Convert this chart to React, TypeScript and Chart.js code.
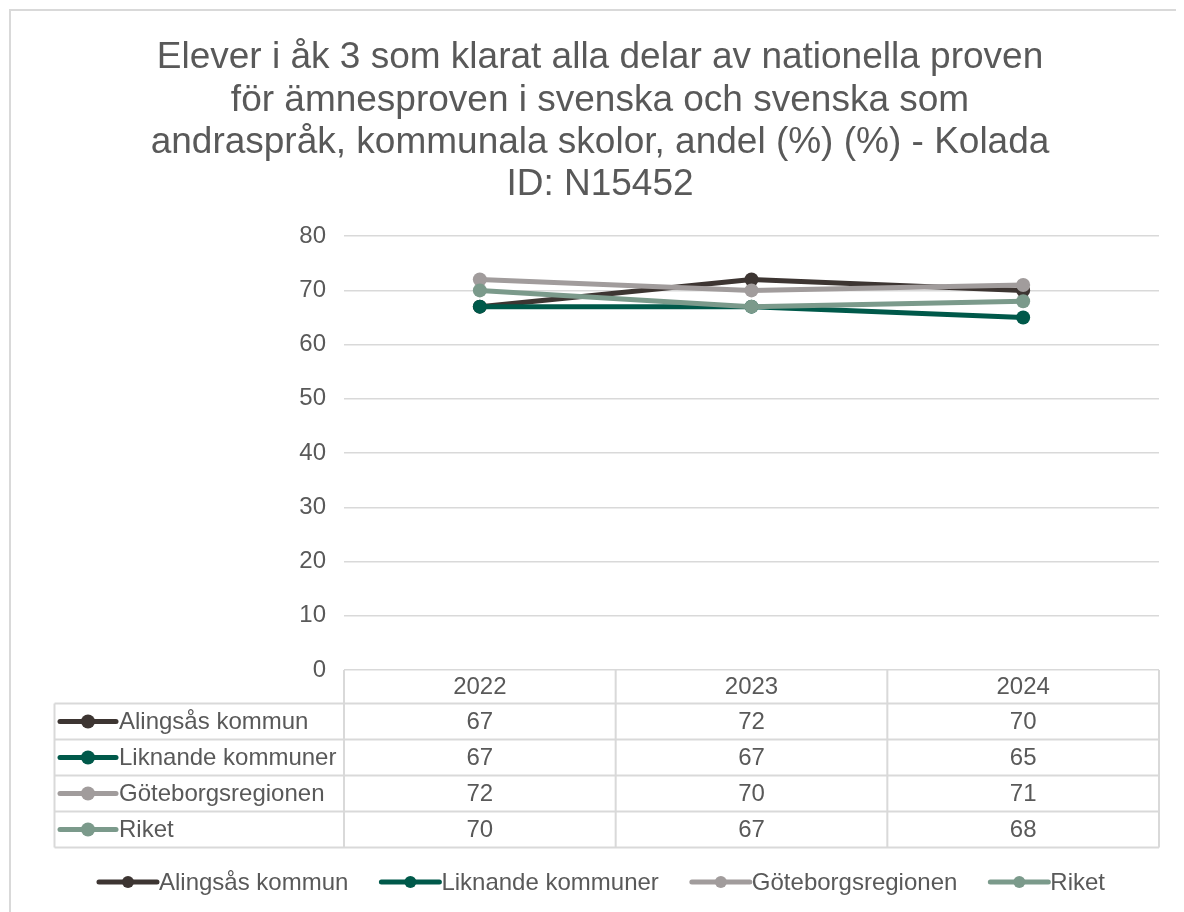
import React, { useEffect, useRef } from "react";
import { Chart, registerables } from "chart.js";

Chart.register(...registerables);

const titleLines = [
  "Elever i åk 3 som klarat alla delar av nationella proven",
  "för ämnesproven i svenska och svenska som",
  "andraspråk, kommunala skolor, andel (%) (%) - Kolada",
  "ID: N15452",
];
const years = ["2022", "2023", "2024"];
const seriesNames = ["Alingsås kommun", "Liknande kommuner", "Göteborgsregionen", "Riket"];
const alingsas = [67, 72, 70];
const liknande = [67, 67, 65];
const goteborg = [72, 70, 71];
const riket = [70, 67, 68];
const seriesColors = ["#3d3532", "#00594a", "#a19c9c", "#7b9a8b"];
const yMin = 0;
const yMax = 80;
const yStep = 10;

const FONT = '"Liberation Sans", Arial, Helvetica, sans-serif';
const TEXT = "#595959";
const GRID = "#d9d9d9";
const FS = 24;

function drawSymbol(ctx: CanvasRenderingContext2D, x0: number, x1: number, y: number, color: string, lw: number, r: number) {
  ctx.save();
  ctx.strokeStyle = color;
  ctx.fillStyle = color;
  ctx.lineWidth = lw;
  ctx.lineCap = "round";
  ctx.beginPath();
  ctx.moveTo(x0, y);
  ctx.lineTo(x1, y);
  ctx.stroke();
  ctx.beginPath();
  ctx.arc((x0 + x1) / 2, y, r, 0, Math.PI * 2);
  ctx.fill();
  ctx.restore();
}

const tablePlugin = {
  id: "dataTableAndLegend",
  afterDraw(chart: any) {
    const ctx: CanvasRenderingContext2D = chart.ctx;
    const xs = chart.scales.x;
    const area = chart.chartArea;
    const labels: string[] = chart.data.labels;
    const n = labels.length;
    const half = (xs.getPixelForValue(1) - xs.getPixelForValue(0)) / 2;
    const bounds: number[] = [];
    for (let i = 0; i < n; i++) bounds.push(xs.getPixelForValue(i) - half);
    bounds.push(xs.getPixelForValue(n - 1) + half);
    const top = area.bottom;
    const headerBottom = top + 33.5;
    const rowH = 36;
    const tableLeft = 46.5;
    const ds = chart.data.datasets;
    const tableBottom = headerBottom + rowH * ds.length;

    ctx.save();
    ctx.strokeStyle = GRID;
    ctx.lineWidth = 2;
    ctx.beginPath();
    for (const b of bounds) {
      ctx.moveTo(b, top);
      ctx.lineTo(b, tableBottom);
    }
    ctx.moveTo(tableLeft, headerBottom);
    ctx.lineTo(tableLeft, tableBottom);
    for (let r = 0; r <= ds.length; r++) {
      const y = headerBottom + r * rowH;
      ctx.moveTo(tableLeft, y);
      ctx.lineTo(bounds[bounds.length - 1], y);
    }
    ctx.stroke();

    ctx.fillStyle = TEXT;
    ctx.font = `${FS}px ${FONT}`;
    ctx.textBaseline = "middle";
    ctx.textAlign = "center";
    for (let i = 0; i < n; i++) {
      ctx.fillText(labels[i], xs.getPixelForValue(i), (top + headerBottom) / 2 + 1);
    }
    ds.forEach((d: any, r: number) => {
      const cy = headerBottom + r * rowH + rowH / 2 + 1;
      drawSymbol(ctx, 52, 108, cy - 1, d.borderColor, 5, 7);
      ctx.fillStyle = TEXT;
      ctx.textAlign = "left";
      ctx.fillText(d.label, 111, cy);
      ctx.textAlign = "center";
      d.data.forEach((v: number, i: number) => {
        ctx.fillText(String(v), xs.getPixelForValue(i), cy);
      });
    });

    const symW = 58;
    const gap = 33;
    const widths = ds.map((d: any) => symW + 2 + ctx.measureText(d.label).width);
    const total = widths.reduce((a: number, b: number) => a + b, 0) + gap * (ds.length - 1);
    let lx = 594 - total / 2;
    const ly = 874;
    ds.forEach((d: any, i: number) => {
      drawSymbol(ctx, lx, lx + symW, ly, d.borderColor, 5, 6);
      ctx.fillStyle = TEXT;
      ctx.textAlign = "left";
      ctx.fillText(d.label, lx + symW + 2, ly + 1);
      lx += widths[i] + gap;
    });

    ctx.strokeStyle = GRID;
    ctx.lineWidth = 2;
    ctx.strokeRect(2, 2, chart.width + 20, chart.height + 20);
    ctx.restore();
  },
};

export default function App() {
  const ref = useRef<HTMLCanvasElement | null>(null);
  useEffect(() => {
    if (!ref.current) return;
    const series = [alingsas, liknande, goteborg, riket];
    const chart = new Chart(ref.current, {
      type: "line",
      data: {
        labels: years,
        datasets: series.map((s, i) => ({
          label: seriesNames[i],
          data: s,
          borderColor: seriesColors[i],
          backgroundColor: seriesColors[i],
          pointBackgroundColor: seriesColors[i],
          pointBorderColor: seriesColors[i],
          borderWidth: 5,
          pointRadius: 7,
          pointBorderWidth: 0,
          tension: 0,
          order: series.length - i,
        })),
      },
      options: {
        animation: false,
        responsive: false,
        devicePixelRatio: 1,
        layout: { padding: { left: 33, right: 25, top: 29, bottom: 0 } },
        plugins: {
          legend: { display: false },
          tooltip: { enabled: false },
          title: {
            display: true,
            text: titleLines,
            color: TEXT,
            font: { family: FONT, size: 37, weight: "normal", lineHeight: 1.143 },
            padding: { top: 0, bottom: 30 },
          },
        },
        scales: {
          x: {
            type: "category",
            offset: true,
            grid: { display: false },
            border: { display: false },
            ticks: { display: false },
            afterFit: (s: any) => {
              s.height = 242;
            },
          },
          y: {
            min: yMin,
            max: yMax,
            ticks: {
              stepSize: yStep,
              color: TEXT,
              font: { family: FONT, size: FS },
              padding: 18,
            },
            grid: { color: GRID, lineWidth: 1.5, drawTicks: false },
            border: { display: false },
            afterFit: (s: any) => {
              s.width = 303;
            },
          },
        },
      },
      plugins: [tablePlugin],
    });
    return () => chart.destroy();
  }, []);
  return <canvas ref={ref} width={1176} height={904} style={{ display: "block" }} />;
}
